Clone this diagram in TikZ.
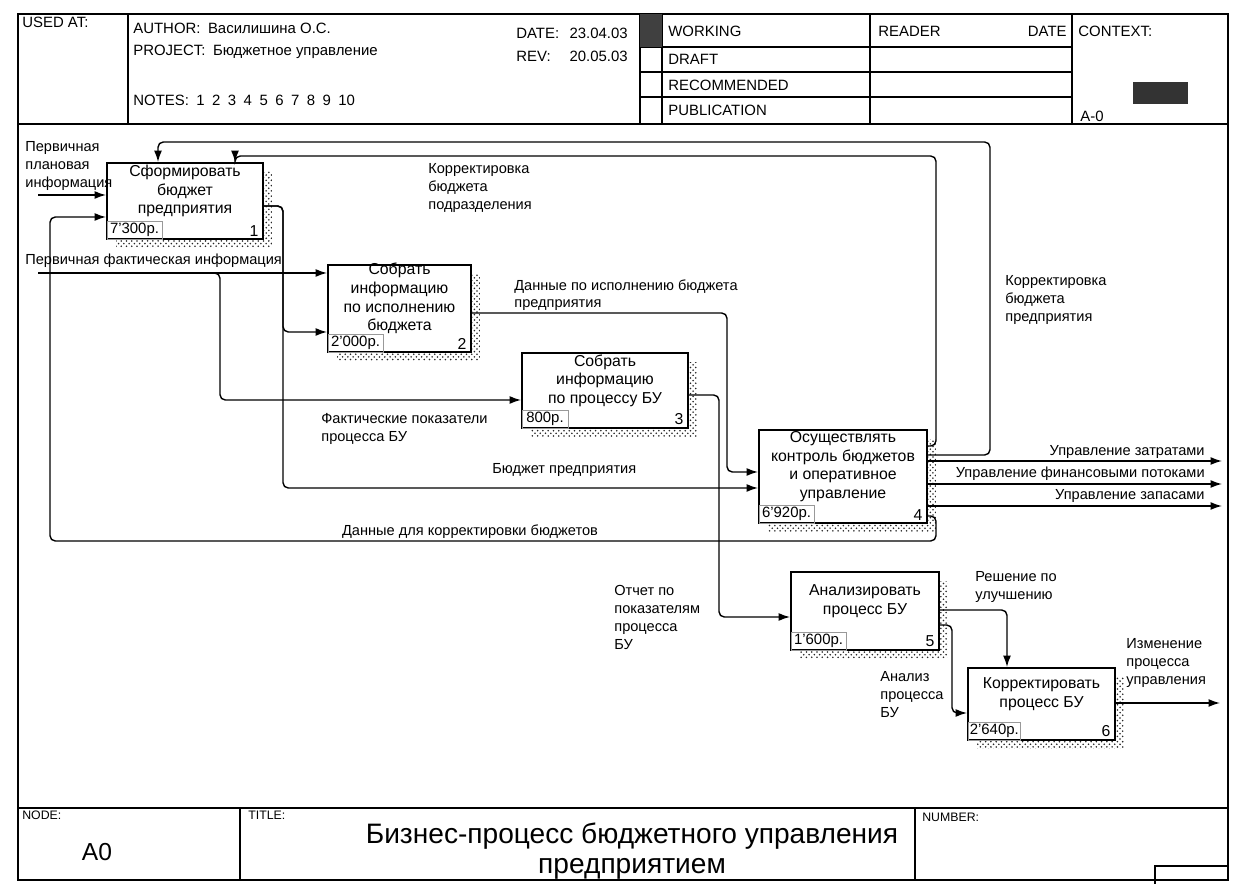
\documentclass[tikz,border=0pt]{standalone}
\usepackage{fontspec}
\setmainfont{Liberation Sans}
\usepackage{tikz}
\usetikzlibrary{arrows.meta,shapes,positioning,patterns,shadows}

\begin{document}
\begin{tikzpicture}[x=0.02cm,y=-0.02cm,
  activity/.style={rectangle,draw=black,line width=1.1pt,fill=white,
    general shadow={shadow xshift=0.18cm,shadow yshift=-0.18cm,
      pattern=crosshatch dots,pattern color=black!85}},
  boxtext/.style={font=\fontsize{9}{10.6}\selectfont,align=center,inner sep=0pt},
  cost/.style={draw=black!40,line width=0.4pt,minimum width=1.1cm,minimum height=0.36cm,
    inner sep=1pt,font=\fontsize{8.5}{10}\selectfont},
  flow/.style={line width=0.8pt,rounded corners=3pt,-{Latex[length=6.5pt,width=4.5pt]}},
  note/.style={font=\fontsize{8.3}{10.2}\selectfont,align=left,inner sep=0pt},
  hdr/.style={font=\fontsize{8.5}{10}\selectfont,inner sep=0pt,anchor=west},
  hdrsmall/.style={font=\fontsize{7}{8}\selectfont,inner sep=0pt,anchor=north west},
  rule/.style={line width=0.7pt}]

  \useasboundingbox (0,0) rectangle (1258,884);

  % form frame
  \draw[rule] (18,14) rectangle (1228,880);
  \draw[rule] (18,124) -- (1228,124);
  \draw[rule] (128,14) -- (128,124) (640,14) -- (640,124) (662,14) -- (662,124)
    (870,14) -- (870,124) (1072,14) -- (1072,124);
  \foreach \y in {47,72,97}
    \draw[rule] (640,\y) -- (1072,\y);
  \fill[black!75] (640,14) rectangle (662,47);
  \fill[black!80] (1133,82) rectangle (1188,104);
  \draw[rule] (18,808) -- (1228,808);
  \draw[rule] (240,808) -- (240,880) (915,808) -- (915,880);
  \draw[rule] (1155,884) -- (1155,866) -- (1228,866);

  % header fields
  \node[hdr] (used at) at (22,22) {USED AT:};
  \node[hdr] (author) at (133,28) {AUTHOR:\enspace Василишина О.С.};
  \node[hdr] (project) at (133,52) {PROJECT:\enspace Бюджетное управление};
  \node[hdr] (notes) at (133,100) {NOTES:\enspace 1\enspace 2\enspace 3\enspace 4\enspace 5\enspace 6\enspace 7\enspace 8\enspace 9\enspace 10};
  \node[hdr] (date label) at (516,33) {DATE:};
  \node[hdr,anchor=east] (date value) at (628,33) {23.04.03};
  \node[hdr] (rev label) at (516,56) {REV:};
  \node[hdr,anchor=east] (rev value) at (628,56) {20.05.03};
  \node[hdr] (working) at (668,31) {WORKING};
  \node[hdr] (draft) at (668,59) {DRAFT};
  \node[hdr] (recommended) at (668,85) {RECOMMENDED};
  \node[hdr] (publication) at (668,110) {PUBLICATION};
  \node[hdr] (reader) at (878,31) {READER};
  \node[hdr,anchor=east] (reader date) at (1067,31) {DATE};
  \node[hdr] (context) at (1078,31) {CONTEXT:};
  \node[hdr] (context node) at (1080,116) {A-0};

  % footer fields
  \node[hdrsmall] (node field) at (22,811) {NODE:};
  \node[font=\fontsize{14}{16}\selectfont] (node number) at (97,852) {A0};
  \node[hdrsmall] (title field) at (248,811) {TITLE:};
  \node[font=\fontsize{16}{17}\selectfont,align=center] (title) at (632,851) {Бизнес-процесс бюджетного управления\\предприятием};
  \node[hdrsmall] (number field) at (922,813) {NUMBER:};

  % activities
  \node[activity,minimum width=3.12cm,minimum height=1.52cm] (budget) at (185,201) {};
  \node[boxtext] (budget text) at ([yshift=0.2cm]budget.center) {Сформировать\\бюджет\\предприятия};
  \node[cost,above right=0.5pt of budget.south west] (budget cost) {7'300р.};
  \node[boxtext,above left=2pt and 3pt of budget.south east] (budget num) {1};

  \node[activity,minimum width=2.86cm,minimum height=1.74cm] (execution) at (399.5,308.5) {};
  \node[boxtext] (execution text) at ([yshift=0.2cm]execution.center) {Собрать\\информацию\\по исполнению\\бюджета};
  \node[cost,above right=0.5pt of execution.south west] (execution cost) {2'000р.};
  \node[boxtext,above left=2pt and 3pt of execution.south east] (execution num) {2};

  \node[activity,minimum width=3.32cm,minimum height=1.5cm] (process) at (605,390.5) {};
  \node[boxtext] (process text) at ([yshift=0.2cm]process.center) {Собрать\\информацию\\по процессу БУ};
  \node[cost,minimum width=0.92cm,above right=0.5pt of process.south west] (process cost) {800р.};
  \node[boxtext,above left=2pt and 3pt of process.south east] (process num) {3};

  \node[activity,minimum width=3.36cm,minimum height=1.86cm] (control) at (843,476.5) {};
  \node[boxtext] (control text) at ([yshift=0.2cm]control.center) {Осуществлять\\контроль бюджетов\\и оперативное\\управление};
  \node[cost,above right=0.5pt of control.south west] (control cost) {6'920р.};
  \node[boxtext,above left=2pt and 3pt of control.south east] (control num) {4};

  \node[activity,minimum width=2.96cm,minimum height=1.56cm] (analysis) at (865,611) {};
  \node[boxtext] (analysis text) at ([yshift=0.2cm]analysis.center) {Анализировать\\процесс БУ};
  \node[cost,above right=0.5pt of analysis.south west] (analysis cost) {1'600р.};
  \node[boxtext,above left=2pt and 3pt of analysis.south east] (analysis num) {5};

  \node[activity,minimum width=2.94cm,minimum height=1.44cm] (correction) at (1041.5,704) {};
  \node[boxtext] (correction text) at ([yshift=0.2cm]correction.center) {Корректировать\\процесс БУ};
  \node[cost,minimum width=1.04cm,above right=0.5pt of correction.south west] (correction cost) {2'640р.};
  \node[boxtext,above left=2pt and 3pt of correction.south east] (correction num) {6};

  % free ends
  \coordinate (plan) at (38,195);
  \coordinate (fact) at (38,273);
  \coordinate (costs) at (1222,461);
  \coordinate (flows) at (1222,484);
  \coordinate (stocks) at (1222,506);
  \coordinate (change) at (1220,703);

  % arrows
  \draw[flow] (plan) -- (plan -| budget.west);
  \draw[flow] (fact) -- (fact -| execution.west);
  \draw[flow] (fact) -- (fact -| 220,0) -- (220,400) -- (process.west |- 0,400);
  \draw[flow] (budget.east |- 0,206) -- (283,206) -- (283,332) -- (execution.west |- 0,332);
  \draw[flow] (budget.east |- 0,206) -- (283,206) -- (283,488) -- (control.west |- 0,488);
  \draw[flow] (execution.east |- 0,313) -- (727,313) -- (727,472) -- (control.west |- 0,472);
  \draw[flow] (process.east |- 0,395) -- (719,395) -- (719,617) -- (analysis.west |- 0,617);
  \draw[flow] (control.east |- 0,446) -- (936,446) -- (936,156) -- (235,156) -- (budget.north -| 235,0);
  \draw[flow] (control.east |- 0,455) -- (990,455) -- (990,142) -- (158,142) -- (budget.north -| 158,0);
  \draw[flow] (control.east |- costs) -- (costs);
  \draw[flow] (control.east |- flows) -- (flows);
  \draw[flow] (control.east |- stocks) -- (stocks);
  \draw[flow] (control.east |- 0,516) -- (936,516) -- (936,541) -- (50,541) -- (50,217) -- (budget.west |- 0,217);
  \draw[flow] (analysis.east |- 0,610) -- (1007,610) -- (correction.north -| 1007,0);
  \draw[flow] (analysis.east |- 0,625) -- (952,625) -- (952,713) -- (correction.west |- 0,713);
  \draw[flow] (correction.east |- change) -- (change);

  % arrow labels
  \node[note,anchor=north west] (plan label) at (25,141) {Первичная\\плановая\\информация};
  \node[note,anchor=west] (fact label) at (25,261) {Первичная фактическая информация};
  \node[note,anchor=north west] (dept label) at (428,163) {Корректировка\\бюджета\\подразделения};
  \node[note,anchor=north west] (exec label) at (514,279) {Данные по исполнению бюджета\\предприятия};
  \node[note,anchor=north west] (actual label) at (321,413) {Фактические показатели\\процесса БУ};
  \node[note,anchor=west] (plan out label) at (492,470) {Бюджет предприятия};
  \node[note,anchor=north west] (firm label) at (1005,275) {Корректировка\\бюджета\\предприятия};
  \node[note,anchor=east] (costs label) at (1205,452) {Управление затратами};
  \node[note,anchor=east] (flows label) at (1205,474) {Управление финансовыми потоками};
  \node[note,anchor=east] (stocks label) at (1205,496) {Управление запасами};
  \node[note,anchor=south] (feedback label) at (470,539) {Данные для корректировки бюджетов};
  \node[note,anchor=north west] (report label) at (614,585) {Отчет по\\показателям\\процесса\\БУ};
  \node[note,anchor=north west] (decision label) at (975,571) {Решение по\\улучшению};
  \node[note,anchor=north west] (analysis label) at (880,671) {Анализ\\процесса\\БУ};
  \node[note,anchor=north west] (change label) at (1126,638) {Изменение\\процесса\\управления};
\end{tikzpicture}
\end{document}
